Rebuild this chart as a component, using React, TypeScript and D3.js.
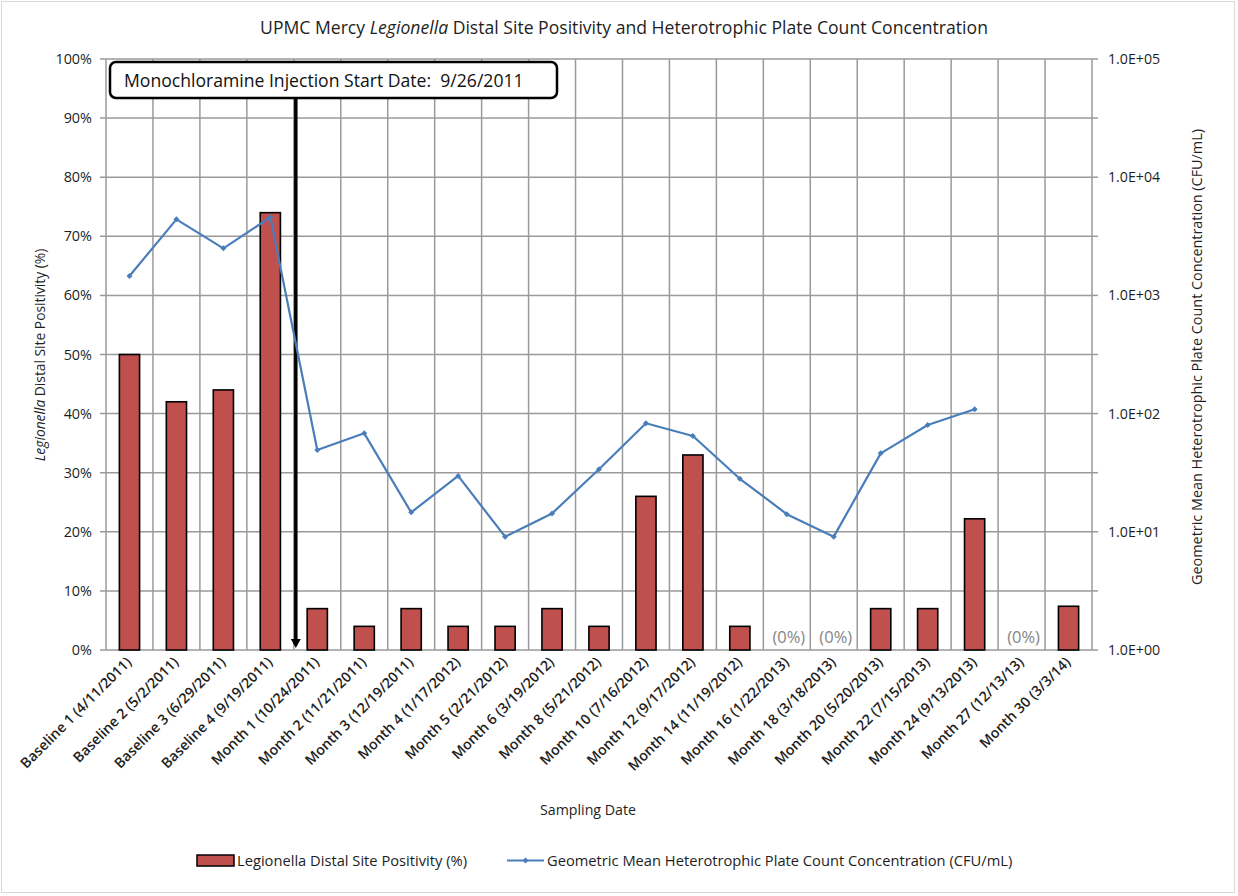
import React from "react";
import * as d3 from "d3";

const categories = [
  "Baseline 1 (4/11/2011)",
  "Baseline 2 (5/2/2011)",
  "Baseline 3 (6/29/2011)",
  "Baseline 4 (9/19/2011)",
  "Month 1 (10/24/2011)",
  "Month 2 (11/21/2011)",
  "Month 3 (12/19/2011)",
  "Month 4 (1/17/2012)",
  "Month 5 (2/21/2012)",
  "Month 6 (3/19/2012)",
  "Month 8 (5/21/2012)",
  "Month 10 (7/16/2012)",
  "Month 12 (9/17/2012)",
  "Month 14 (11/19/2012)",
  "Month 16 (1/22/2013)",
  "Month 18 (3/18/2013)",
  "Month 20 (5/20/2013)",
  "Month 22 (7/15/2013)",
  "Month 24 (9/13/2013)",
  "Month 27 (12/13/13)",
  "Month 30 (3/3/14)",
];

const positivity = [0.5, 0.42, 0.44, 0.74, 0.07, 0.04, 0.07, 0.04, 0.04, 0.07, 0.04, 0.26, 0.33, 0.04, 0, 0, 0.07, 0.07, 0.222, 0, 0.074];

const hpc: (number | null)[] = [1460, 4400, 2500, 4580, 49.2, 68.1, 14.6, 29.7, 9.1, 14.3, 33.8, 82.8, 64.6, 28.1, 14.1, 9.1, 46.1, 80.1, 109, null, null];

const leftTicks = [0, 0.1, 0.2, 0.3, 0.4, 0.5, 0.6, 0.7, 0.8, 0.9, 1.0];
const rightTicks = [1, 10, 100, 1000, 10000, 100000];
const rightTickLabels = ["1.0E+00", "1.0E+01", "1.0E+02", "1.0E+03", "1.0E+04", "1.0E+05"];
const rightMinorTicks = [Math.sqrt(10), Math.sqrt(1000), Math.sqrt(1e5), Math.sqrt(1e7), Math.sqrt(1e9)];

const annotationText = "Monochloramine Injection Start Date:  9/26/2011";
const injectionAfterIndex = 3;

const FONT = "'Open Sans', 'Noto Sans', sans-serif";
const BAR = "#C0504D";
const LINE = "#4A7EBB";
const GRID = "#9a9a9a";
const TXT = "#1e1e1e";

export default function App() {
  const W = 1238;
  const H = 896;
  const left = 106;
  const right = 1092;
  const top = 59;
  const bottom = 650;

  const x = d3.scaleBand<string>().domain(categories).range([left, right]).paddingInner(0.57).paddingOuter(0.285);
  const step = x.step();
  const yL = d3.scaleLinear().domain([0, 1]).range([bottom, top]);
  const yR = d3.scaleLog().domain([1, 100000]).range([bottom, top]);

  const cx = (c: string) => (x(c) as number) + x.bandwidth() / 2;

  const linePts = categories
    .map((c, i) => ({ c, v: hpc[i] }))
    .filter((d) => d.v !== null) as { c: string; v: number }[];
  const lineGen = d3
    .line<{ c: string; v: number }>()
    .x((d) => cx(d.c))
    .y((d) => yR(d.v));

  const boundaries = d3.range(categories.length + 1).map((i) => left + i * step);
  const arrowX = left + (injectionAfterIndex + 1) * step + 2;

  const diamond = (px: number, py: number, r: number) => `M${px},${py - r} L${px + r},${py} L${px},${py + r} L${px - r},${py} Z`;

  return (
    <svg width={W} height={H} style={{ position: "absolute", left: 0, top: 0, background: "#fff" }} fontFamily={FONT}>
      <rect x={1.5} y={1.5} width={W - 5} height={H - 5} fill="#fff" stroke="#d8d8d8" strokeWidth={1} />
      {/* title */}
      <text x={624} y={34} textAnchor="middle" fontSize={17.6} fill={TXT}>
        UPMC Mercy <tspan fontStyle="italic">Legionella</tspan> Distal Site Positivity and Heterotrophic Plate Count Concentration
      </text>

      {/* horizontal gridlines */}
      {leftTicks.map((t) => (
        <line key={"h" + t} x1={left - 6} x2={right} y1={yL(t)} y2={yL(t)} stroke={GRID} strokeWidth={1.5} />
      ))}
      {/* vertical gridlines */}
      {boundaries.map((b, i) => (
        <line key={"v" + i} x1={b} x2={b} y1={top} y2={bottom} stroke={GRID} strokeWidth={1.5} />
      ))}
      {/* right axis ticks */}
      {rightTicks.map((t) => (
        <line key={"rt" + t} x1={right} x2={right + 6} y1={yR(t)} y2={yR(t)} stroke={GRID} strokeWidth={1.5} />
      ))}
      {rightMinorTicks.map((t, i) => (
        <line key={"rm" + i} x1={right} x2={right + 6} y1={yR(t)} y2={yR(t)} stroke={GRID} strokeWidth={1.5} />
      ))}

      {/* left tick labels */}
      {leftTicks.map((t) => (
        <text key={"lt" + t} x={92} y={yL(t) + 5} textAnchor="end" fontSize={14.4} fill={TXT}>
          {Math.round(t * 100)}%
        </text>
      ))}
      {/* right tick labels */}
      {rightTicks.map((t, i) => (
        <text key={"rl" + t} x={1108} y={yR(t) + 5} textAnchor="start" fontSize={14.2} fill={TXT}>
          {rightTickLabels[i]}
        </text>
      ))}

      {/* bars */}
      {categories.map((c, i) =>
        positivity[i] > 0 ? (
          <rect
            key={"b" + i}
            x={x(c)}
            y={yL(positivity[i])}
            width={x.bandwidth()}
            height={bottom - yL(positivity[i])}
            fill={BAR}
            stroke="#000"
            strokeWidth={1.6}
          />
        ) : (
          <text key={"z" + i} x={cx(c) + 2} y={643} textAnchor="middle" fontSize={16.5} fill="#858585">
            (0%)
          </text>
        )
      )}

      {/* arrow */}
      <line x1={arrowX} x2={arrowX} y1={98} y2={640} stroke="#000" strokeWidth={3.5} />
      <path d={`M${arrowX - 5},${639} L${arrowX + 5},${639} L${arrowX},${648} Z`} fill="#000" />

      {/* line */}
      <path d={lineGen(linePts) || ""} fill="none" stroke={LINE} strokeWidth={2.2} strokeLinejoin="round" />
      {linePts.map((d, i) => (
        <path key={"m" + i} d={diamond(cx(d.c), yR(d.v), 3)} fill={LINE} />
      ))}

      {/* annotation box */}
      <rect x={110} y={62} width={447} height={36} rx={6} ry={6} fill="#fff" stroke="#000" strokeWidth={2.5} />
      <text x={124} y={86.5} fontSize={17.6} fill="#111" xmlSpace="preserve" style={{ whiteSpace: "pre" }}>
        {annotationText}
      </text>

      {/* x labels */}
      {categories.map((c) => (
        <text
          key={"xl" + c}
          transform={`translate(${cx(c) + 3},${663}) rotate(-45)`}
          textAnchor="end"
          fontSize={14.2}
          fontWeight={600}
          fill={TXT}
        >
          {c}
        </text>
      ))}

      {/* axis titles */}
      <text x={588} y={815} textAnchor="middle" fontSize={14.2} fill={TXT}>
        Sampling Date
      </text>
      <text transform={`translate(45,${355}) rotate(-90)`} textAnchor="middle" fontSize={13.8} fill={TXT}>
        <tspan fontStyle="italic">Legionella</tspan> Distal Site Positivity (%)
      </text>
      <text transform={`translate(1202,${357}) rotate(-90)`} textAnchor="middle" fontSize={14.4} fill={TXT}>
        Geometric Mean Heterotrophic Plate Count Concentration (CFU/mL)
      </text>

      {/* legend */}
      <rect x={197} y={855} width={37} height={11} fill={BAR} stroke="#000" strokeWidth={1.5} />
      <text x={237} y={866} fontSize={14.7} fill={TXT}>
        Legionella Distal Site Positivity (%)
      </text>
      <line x1={507} x2={544} y1={860.5} y2={860.5} stroke={LINE} strokeWidth={2.2} />
      <path d={diamond(525.5, 860.5, 3)} fill={LINE} />
      <text x={547} y={866} fontSize={14.7} fill={TXT}>
        Geometric Mean Heterotrophic Plate Count Concentration (CFU/mL)
      </text>
    </svg>
  );
}
